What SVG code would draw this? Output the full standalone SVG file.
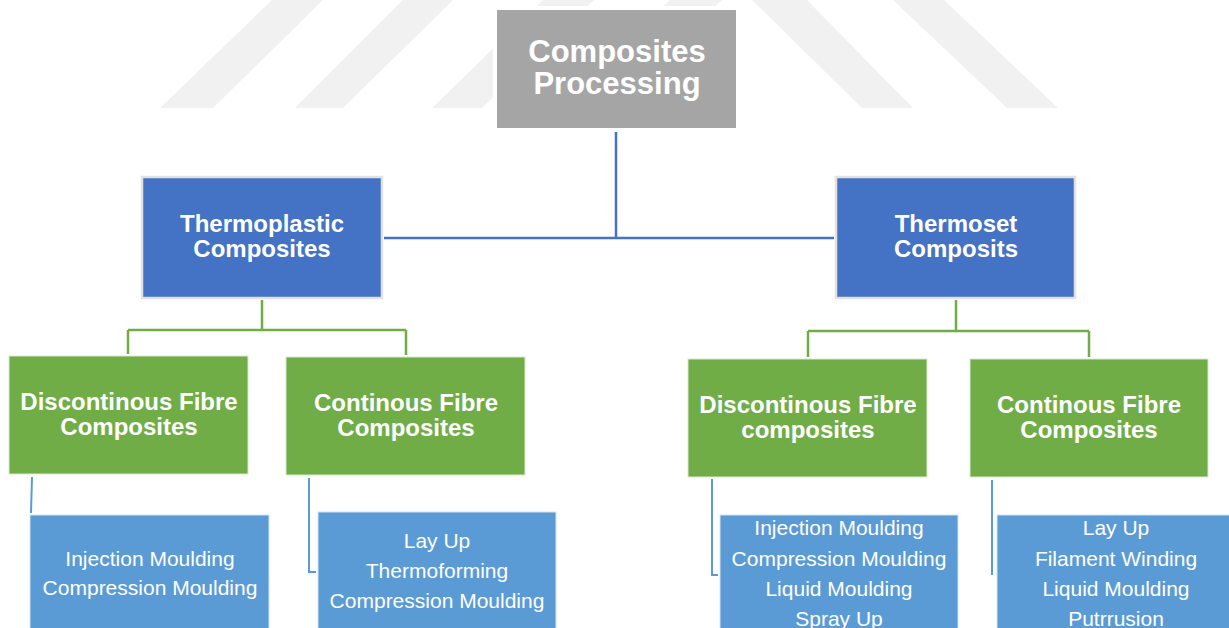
<svg xmlns="http://www.w3.org/2000/svg" width="1229" height="628" viewBox="0 0 1229 628">
  <style>
    .wm { fill: #f1f1f1; }
    .halo { fill: #ffffff; }
    .root { fill: #a5a5a5; }
    .family { fill: #4472c4; stroke: #e2e2e2; stroke-width: 2.5; }
    .kind { fill: #70ad47; stroke: #d9e8cf; stroke-width: 1; }
    .method { fill: #5b9bd5; stroke: #d3e3f3; stroke-width: 1; }
    .t { font-family: "Liberation Sans", Arial, sans-serif; fill: #ffffff; text-anchor: middle; }
    .t-root { font-size: 31px; font-weight: bold; }
    .t-bold { font-size: 24px; font-weight: bold; }
    .t-list { font-size: 21px; }
    .c-blue { fill: none; stroke: #4472c4; stroke-width: 2.5; }
    .c-green { fill: none; stroke: #70ad47; stroke-width: 2.5; }
    .c-light { fill: none; stroke: #5b9bd5; stroke-width: 2; }
  </style>

  <rect width="1229" height="628" fill="#ffffff"/>

  <!-- faint striped backdrop -->
  <g id="backdrop">
    <polygon class="wm" points="160,108 213,108 323,0 272,0"/>
    <polygon class="wm" points="295,108 343,108 453,0 403,0"/>
    <polygon class="wm" points="432,108 482,108 594,0 543,0"/>
    <polygon class="wm" points="555,108 606,108 722,0 670,0"/>
    <polygon class="wm" points="752,0 807,0 913,108 862,108"/>
    <polygon class="wm" points="893,0 944,0 1058,108 1007,108"/>
  </g>

  <!-- connectors -->
  <g id="connectors">
    <path class="c-blue" d="M616,130 V238 M384,238 H834"/>
    <path class="c-green" d="M262,300 V330 M128,330 H406 M128,330 V354 M406,330 V355"/>
    <path class="c-green" d="M956,300 V331 M808,331 H1089 M808,331 V357 M1089,331 V357"/>
    <path class="c-light" d="M32,477 L31,513"/>
    <path class="c-light" d="M309,478 V572 H316"/>
    <path class="c-light" d="M712,479 V575 H718"/>
    <path class="c-light" d="M992,480 V575"/>
  </g>

  <g id="composites-processing">
    <rect class="halo" x="493" y="6" width="247" height="126"/>
    <rect class="root" x="497" y="10" width="239" height="118"/>
    <text class="t t-root" x="617" y="62">Composites</text>
    <text class="t t-root" x="617" y="94">Processing</text>
  </g>

  <g id="thermoplastic">
    <rect class="family" x="142" y="177" width="240" height="121"/>
    <text class="t t-bold" x="262" y="232">Thermoplastic</text>
    <text class="t t-bold" x="262" y="257">Composites</text>
  </g>

  <g id="thermoset">
    <rect class="family" x="836" y="177" width="239" height="121"/>
    <text class="t t-bold" x="956" y="232">Thermoset</text>
    <text class="t t-bold" x="956" y="257">Composits</text>
  </g>

  <g id="tp-discontinuous">
    <rect class="kind" x="9" y="356" width="239" height="118"/>
    <text class="t t-bold" x="129" y="410">Discontinous Fibre</text>
    <text class="t t-bold" x="129" y="435">Composites</text>
  </g>

  <g id="tp-continuous">
    <rect class="kind" x="286" y="357" width="239" height="118"/>
    <text class="t t-bold" x="406" y="411">Continous Fibre</text>
    <text class="t t-bold" x="406" y="436">Composites</text>
  </g>

  <g id="ts-discontinuous">
    <rect class="kind" x="688" y="359" width="239" height="118"/>
    <text class="t t-bold" x="808" y="413">Discontinous Fibre</text>
    <text class="t t-bold" x="808" y="438">composites</text>
  </g>

  <g id="ts-continuous">
    <rect class="kind" x="970" y="359" width="238" height="118"/>
    <text class="t t-bold" x="1089" y="413">Continous Fibre</text>
    <text class="t t-bold" x="1089" y="438">Composites</text>
  </g>

  <g id="tp-discontinuous-methods">
    <rect class="method" x="30" y="515" width="239" height="130"/>
    <text class="t t-list" x="150" y="566">Injection Moulding</text>
    <text class="t t-list" x="150" y="595">Compression Moulding</text>
  </g>

  <g id="tp-continuous-methods">
    <rect class="method" x="318" y="512" width="238" height="130"/>
    <text class="t t-list" x="437" y="548">Lay Up</text>
    <text class="t t-list" x="437" y="578">Thermoforming</text>
    <text class="t t-list" x="437" y="608">Compression Moulding</text>
  </g>

  <g id="ts-discontinuous-methods">
    <rect class="method" x="720" y="515" width="238" height="130"/>
    <text class="t t-list" x="839" y="535">Injection Moulding</text>
    <text class="t t-list" x="839" y="566">Compression Moulding</text>
    <text class="t t-list" x="839" y="596">Liquid Moulding</text>
    <text class="t t-list" x="839" y="626">Spray Up</text>
  </g>

  <g id="ts-continuous-methods">
    <rect class="method" x="997" y="515" width="240" height="130"/>
    <text class="t t-list" x="1116" y="535">Lay Up</text>
    <text class="t t-list" x="1116" y="566">Filament Winding</text>
    <text class="t t-list" x="1116" y="596">Liquid Moulding</text>
    <text class="t t-list" x="1116" y="626">Putrrusion</text>
  </g>
</svg>
